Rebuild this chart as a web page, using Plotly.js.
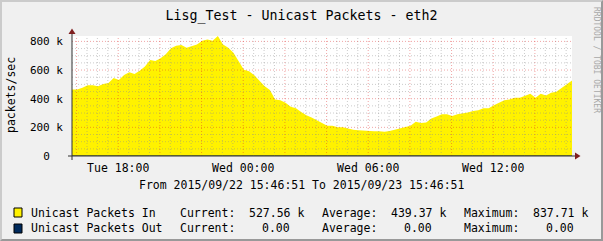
<!DOCTYPE html>
<html><head><meta charset="utf-8">
<script src="https://cdn.plot.ly/plotly-3.0.1.min.js"></script>
<style>
html,body{margin:0;padding:0;background:#f0f0f0;}
#wrap{position:relative;width:603px;height:241px;}
#chart{width:603px;height:241px;}
#frame{position:absolute;left:0;top:0;width:603px;height:241px;box-sizing:border-box;
border-top:2px solid #cbcbcb;border-left:2px solid #cbcbcb;border-right:2px solid #999;border-bottom:2px solid #999;pointer-events:none;}
</style></head>
<body><div id="wrap"><div id="chart"></div><div id="frame"></div></div>
<script>
// ---- data (packets/sec, thousands), one sample every 15 minutes ----
const startTime = '2015-09-22 15:46:51';
const endTime = '2015-09-23 15:46:51';
const stepMinutes = 15;
const inPacketsK = [
 464,464,476,494,494,487,503,510,545,531,
 565,584,573,595,625,671,664,683,710,752,
 770,775,756,770,779,805,814,805,837.71,779,
 756,720,660,602,591,563,526,487,460,395,
 389,372,343,333,308,285,269,251,234,211,
 211,200,200,190,184,180,177,172,172,172,
 170,175,184,193,200,211,239,230,234,262,
 275,292,292,280,292,295,303,315,320,333,
 333,355,370,390,395,407,407,418,434,407,
 435,423,441,448,476,499,527.56];
const outPacketsK = inPacketsK.map(() => 0);

const seriesNames = ['Unicast Packets In', 'Unicast Packets Out'];
const seriesColors = ['#fff200', '#002a5c'];
const currentText = ['527.56 k', '0.00  '];
const averageText = ['439.37 k', '0.00  '];
const maximumText = ['837.71 k', '0.00  '];

const xTickVals = ['2015-09-22 18:00:00', '2015-09-23 00:00:00', '2015-09-23 06:00:00', '2015-09-23 12:00:00'];
const xTickText = ['Tue 18:00', 'Wed 00:00', 'Wed 06:00', 'Wed 12:00'];
const yTickVals = [0, 200000, 400000, 600000, 800000];
const yTickText = ['0  ', '200 k', '400 k', '600 k', '800 k'];
const yMax = 837710;

const titleText = 'Lisg_Test - Unicast Packets - eth2';
const yTitle = 'packets/sec';
const rangeText = 'From 2015/09/22 15:46:51 To 2015/09/23 15:46:51';
const watermark = 'RRDTOOL / TOBI OETIKER';

// ---- helpers ----
function parseT(s){ const [d,t]=s.split(' '); const [Y,M,D]=d.split('-').map(Number); const [h,m,sec]=t.split(':').map(Number); return Date.UTC(Y,M-1,D,h,m,sec||0); }
function fmt(ms){ return new Date(ms).toISOString().replace('T',' ').slice(0,19); }
const nb = s => s.replace(/ /g, '\u00a0');
const t0 = parseT(startTime), t1 = parseT(endTime);
const times = inPacketsK.map((_, i) => fmt(t0 + i * stepMinutes * 60000));

const L = 72, R = 572, T = 36, B = 156;
const px = x => (x - L) / (R - L);
const py = y => (B - y) / (B - T);
const MONO = 'DejaVu Sans Mono';

// ---- grid as shapes drawn above the area ----
const shapes = [];
const minorCol = 'rgba(140,140,140,0.45)', majorCol = 'rgba(220,40,40,0.42)';
const g0 = parseT('2015-09-22 16:00:00');
for (let t = g0; t <= t1; t += 30 * 60000) {
  const major = ((t - g0) % (2 * 3600000)) === 0;
  shapes.push({type:'line', layer:'above', xref:'x', yref:'paper', x0:fmt(t), x1:fmt(t), y0:0, y1:1,
    line:{color: major ? majorCol : minorCol, width:1, dash:'1px,2px'}});
}
for (let v = 50000; v <= yMax; v += 50000) {
  const major = v % 200000 === 0;
  shapes.push({type:'line', layer:'above', xref:'paper', yref:'y', x0:0, x1:1, y0:v, y1:v,
    line:{color: major ? majorCol : minorCol, width:1, dash:'1px,2px'}});
}
// axes lines and arrows
const axisCol = '#303030', arrowCol = '#7f1f1f';
shapes.push({type:'line', layer:'above', xref:'paper', yref:'paper', x0:px(68), x1:px(577), y0:py(156), y1:py(156), line:{color:axisCol, width:1}});
shapes.push({type:'line', layer:'above', xref:'paper', yref:'paper', x0:px(72), x1:px(72), y0:py(160), y1:py(32), line:{color:axisCol, width:1}});
shapes.push({type:'path', layer:'above', xref:'paper', yref:'paper', fillcolor:arrowCol, line:{width:0},
  path:`M ${px(575)} ${py(152.5)} L ${px(580.5)} ${py(156)} L ${px(575)} ${py(159.5)} Z`});
shapes.push({type:'path', layer:'above', xref:'paper', yref:'paper', fillcolor:arrowCol, line:{width:0},
  path:`M ${px(68.5)} ${py(34)} L ${px(72)} ${py(28.5)} L ${px(75.5)} ${py(34)} Z`});
// legend boxes
const rowY = [212.5, 228.5];
seriesNames.forEach((n, i) => {
  shapes.push({type:'rect', xref:'paper', yref:'paper', x0:px(14), x1:px(22), y0:py(rowY[i]-4.5), y1:py(rowY[i]+4.5),
    fillcolor:seriesColors[i], line:{color:'#000', width:1}});
});

// ---- annotations ----
const ann = [];
function addText(text, x, y, anchor, size, extra) {
  ann.push(Object.assign({text: nb(text), xref:'paper', yref:'paper', x:px(x), y:py(y), xanchor:anchor, yanchor:'middle',
    showarrow:false, borderpad:0, font:{family:MONO, size:size, color:'#000'}}, extra || {}));
}
addText(rangeText, 301.5, 185, 'center', 11.5);
seriesNames.forEach((n, i) => {
  addText(n, 30, rowY[i], 'left', 11.5);
  addText('Current:', 179, rowY[i], 'left', 11.5);
  addText(currentText[i], 305, rowY[i], 'right', 11.5);
  addText('Average:', 321, rowY[i], 'left', 11.5);
  addText(averageText[i], 447, rowY[i], 'right', 11.5);
  addText('Maximum:', 463, rowY[i], 'left', 11.5);
  addText(maximumText[i], 589, rowY[i], 'right', 11.5);
});
addText(yTitle, 11, 95, 'center', 11.5, {textangle:-90});
addText(watermark, 596, 60, 'center', 8, {textangle:90, font:{family:MONO, size:8, color:'#a8a8a8'}});

// ---- traces ----
const traces = [
  {x: times, y: inPacketsK.map(v => v * 1000), type:'scatter', mode:'lines', fill:'tozeroy',
   fillcolor: seriesColors[0], line:{width:0, color: seriesColors[0]}, name: seriesNames[0], hoverinfo:'skip'},
  {x: times, y: outPacketsK.map(v => v * 1000), type:'scatter', mode:'lines', fill:'tozeroy',
   fillcolor: seriesColors[1], line:{width:1, color: seriesColors[1]}, name: seriesNames[1], hoverinfo:'skip'}
];

const layout = {
  width:603, height:241, showlegend:false,
  paper_bgcolor:'#f0f0f0', plot_bgcolor:'#ffffff',
  margin:{l:L, r:603-R, t:T, b:241-B, pad:0},
  title:{text:titleText, font:{family:MONO, size:13.3, color:'#000'}, x:0.5, xanchor:'center', y:1-15/241, yanchor:'middle'},
  xaxis:{type:'date', range:[startTime, endTime], tickmode:'array', tickvals:xTickVals, ticktext:xTickText,
    showgrid:false, zeroline:false, showline:false, ticks:'', ticklabelstandoff:3,
    tickfont:{family:MONO, size:11.5, color:'#000'}},
  yaxis:{range:[0, yMax], tickmode:'array', tickvals:yTickVals, ticktext:yTickText.map(nb),
    showgrid:false, zeroline:false, showline:false, ticks:'', ticklabelstandoff:8,
    tickfont:{family:MONO, size:11, color:'#000'}},
  shapes: shapes, annotations: ann
};
Plotly.newPlot('chart', traces, layout, {staticPlot:true, displayModeBar:false});
</script></body></html>
